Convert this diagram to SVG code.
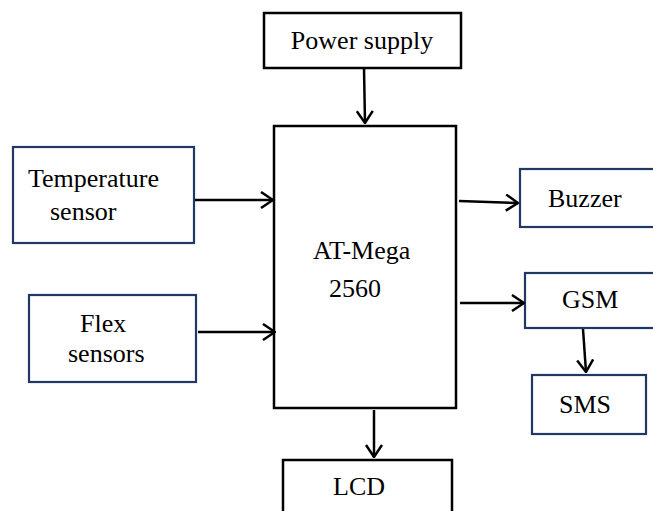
<svg xmlns="http://www.w3.org/2000/svg" width="653" height="511" viewBox="0 0 653 511">
<style>
.b{fill:#fff;stroke:#000;stroke-width:2.5}
.n{fill:#fff;stroke:#1f3864;stroke-width:2.2}
text{font-family:"Liberation Serif","Times New Roman",serif;font-size:26px;fill:#000}
.c{stroke:#000;stroke-width:2.5;fill:none}
</style>
<defs>
<marker id="ah" viewBox="0 0 14 18" refX="13" refY="9" markerWidth="14" markerHeight="18" markerUnits="userSpaceOnUse" orient="auto">
<path d="M1,1 L13,9 L1,17" fill="none" stroke="#000" stroke-width="2.5"/>
</marker>
</defs>
<rect width="653" height="511" fill="#fff"/>
<g id="power"><rect class="b" x="264" y="13" width="197" height="55"/><text x="362" y="49" text-anchor="middle">Power supply</text></g>
<g id="mcu"><rect class="b" x="274" y="126" width="182" height="282"/><text x="313" y="259">AT-Mega</text><text x="329" y="297">2560</text></g>
<g id="temp"><rect class="n" x="13" y="147" width="181" height="96"/><text x="28" y="187">Temperature</text><text x="50" y="220">sensor</text></g>
<g id="flex"><rect class="n" x="29" y="295" width="167" height="87"/><text x="80" y="332">Flex</text><text x="68" y="362">sensors</text></g>
<g id="buzzer"><rect class="n" x="520" y="169" width="145" height="58"/><text x="548" y="207">Buzzer</text></g>
<g id="gsm"><rect class="n" x="525" y="273" width="140" height="55"/><text x="562" y="308">GSM</text></g>
<g id="sms"><rect class="n" x="532" y="375" width="114" height="59"/><text x="559" y="413">SMS</text></g>
<g id="lcd"><rect class="b" x="283" y="460" width="169" height="70"/><text x="333" y="495">LCD</text></g>
<g id="connectors">
<path class="c" d="M364,68 L365,123" marker-end="url(#ah)"/>
<path class="c" d="M195,200 L273,200" marker-end="url(#ah)"/>
<path class="c" d="M198,332 L275,332" marker-end="url(#ah)"/>
<path class="c" d="M459,201 L518,203" marker-end="url(#ah)"/>
<path class="c" d="M460,303 L524,303" marker-end="url(#ah)"/>
<path class="c" d="M583,329 L586,372" marker-end="url(#ah)"/>
<path class="c" d="M374,410 L374,457" marker-end="url(#ah)"/>
</g>
</svg>
